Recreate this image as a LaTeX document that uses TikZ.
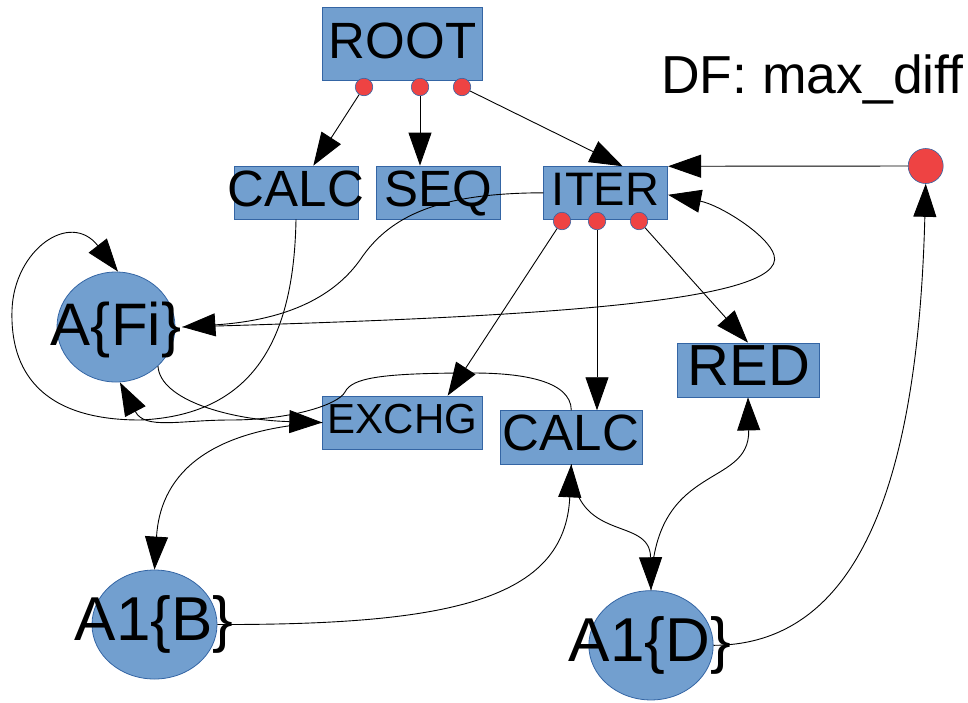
\documentclass[tikz,border=0pt]{standalone}
\usepackage{fontspec}
\setmainfont{Liberation Sans}
\usetikzlibrary{arrows.meta,shapes.geometric,calc}
\definecolor{boxfill}{HTML}{729FCF}
\definecolor{boxline}{HTML}{3465A4}
\definecolor{dotred}{HTML}{EE4343}
\newcommand\myfs[1]{\fontsize{#1}{#1}\selectfont}
\begin{document}
\begin{tikzpicture}[x=1pt,y=-1pt,
  box/.style={draw=boxline, fill=boxfill, line width=0.8pt, rectangle, inner sep=0pt},
  oval/.style={draw=boxline, fill=boxfill, line width=0.8pt, ellipse, inner sep=0pt},
  port/.style={draw=boxline, fill=dotred, line width=0.6pt, circle, inner sep=0pt, minimum size=17.5pt},
  lbl/.style={anchor=base, inner sep=0pt, text=black},
  conn/.style={line width=0.9pt, -{Triangle[length=33pt,width=23pt]}},
]
\useasboundingbox (0,0) rectangle (968,702);

% boxes and ovals
\node[box, minimum width=160pt, minimum height=73pt] (root) at (402.5,43.75) {};
\node[lbl, font=\myfs{51}] (rootL) at (402.5,58) {ROOT};
\node[port] (rd1) at (364,87) {};
\node[port] (rd2) at (420,87) {};
\node[port] (rd3) at (462,87) {};

\node[box, minimum width=124pt, minimum height=53pt] (calcT) at (296,192.5) {};
\node[lbl, font=\myfs{51}] (calcTL) at (296,206.7) {CALC};
\node[box, minimum width=124.7pt, minimum height=53pt] (seq) at (438.3,192.5) {};
\node[lbl, font=\myfs{51}] (seqL) at (438,206.7) {SEQ};
\node[box, minimum width=124pt, minimum height=52.3pt] (iter) at (605.7,192.8) {};
\node[lbl, font=\myfs{47}] (iterL) at (605.5,205) {ITER};
\node[port] (id1) at (562,221) {};
\node[port] (id2) at (597,221) {};
\node[port] (id3) at (639,221) {};

\node[port, minimum size=35pt] (bigdot) at (925.7,166) {};
\node[anchor=base west, inner sep=0pt, font=\myfs{53.5}] (df) at (661,93) {DF: max\_diff};

\node[oval, minimum width=118pt, minimum height=110pt] (afi) at (116,327) {};
\node[lbl, font=\myfs{60}] (afiL) at (116,345) {A\{Fi\}};

\node[box, minimum width=160pt, minimum height=53pt] (exchg) at (402.7,422.5) {};
\node[lbl, font=\myfs{42}] (exchgL) at (402.5,433) {EXCHG};
\node[box, minimum width=142.7pt, minimum height=53.3pt] (calcM) at (571.3,437.3) {};
\node[lbl, font=\myfs{51}] (calcML) at (571,450) {CALC};
\node[box, minimum width=142pt, minimum height=54pt] (red) at (748,370) {};
\node[lbl, font=\myfs{58}] (redL) at (749,385) {RED};

\node[oval, minimum width=125pt, minimum height=109pt] (a1b) at (154.5,624.5) {};
\node[lbl, font=\myfs{62}] (a1bL) at (154,640.7) {A1\{B\}};
\node[oval, minimum width=124.3pt, minimum height=109.3pt] (a1d) at (651,645.3) {};
\node[lbl, font=\myfs{62}] (a1dL) at (650,661.7) {A1\{D\}};

% connectors
\draw[conn] (rd1) -- (calcT);
\draw[conn] (rd2) -- (rd2 |- seq.north);
\draw[conn] (rd3) -- ($(iter.north)+(17,0)$);
\draw[conn] (bigdot) -- (iter.north east);

\draw[conn] (iter.west) .. controls (440,193) and (390,215) .. (360,260)
  .. controls (335,295) and (290,320) .. ($(afi.east)+(7,0)$);
\draw[conn] ($(afi.east)+(7,0)$) .. controls (500,318) and (790,305) .. (774,255)
  .. controls (768,235) and (720,205) .. ($(iter.east)+(0,2)$);

\draw[conn] (id1) -- ($(exchg.north)+(45,0)$);
\draw[conn] (id2) -- (id2 |- calcM.north);
\draw[conn] (id3) -- (red.north);

\draw[conn] (calcT.south) .. controls (294,330) and (260,415) .. (140,420)
  .. controls (40,420) and (10,370) .. (12,310)
  .. controls (14,250) and (70,210) .. ($(afi.north)+(2,0)$);

\draw[conn] (afi.south east) .. controls (160,400) and (230,420) .. (exchg.west);

\draw[conn] (calcM.north) .. controls (571,380) and (520,373) .. (473,373)
  .. controls (380,373) and (352,378) .. (345,392)
  .. controls (338,405) and (290,420) .. (230,420)
  .. controls (180,420) and (145,430) .. ($(afi.south)+(4,0)$);

\draw[conn] (exchg.west) .. controls (200,430) and (160,480) .. (a1b.north);
\draw[conn] (a1b.east) .. controls (450,625) and (565,600) .. (calcM.south);
\draw[conn] (calcM.south) .. controls (575,545) and (650,515) .. (a1d.north);
\draw[conn] (a1d.north) .. controls (652,460) and (750,490) .. (red.south);
\draw[conn] (a1d.east) .. controls (860,645) and (918,480) .. (bigdot.south);
\end{tikzpicture}
\end{document}
